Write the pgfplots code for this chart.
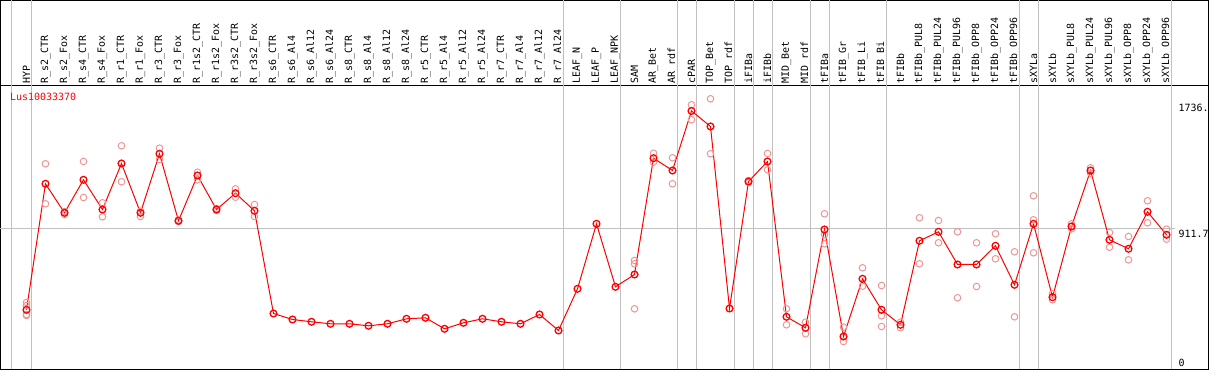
\documentclass[border=0pt]{standalone}
\usepackage{fontspec}
\usepackage{pgfplots}
\usepackage{pgfplotstable}
\pgfplotsset{compat=1.18}
\newfontfamily\mono{DejaVu Sans Mono}
\definecolor{rep}{RGB}{238,150,150}
\definecolor{gridc}{RGB}{192,192,192}

\pgfplotstableread{
x y
0 341.5
1 1225.2
2 1021.8
3 1253.2
4 1044.9
5 1367.5
6 1021.8
7 1435.6
8 965.7
9 1283.4
10 1044.9
11 1159.2
12 1035.8
13 315.6
14 273.5
15 257.4
16 243.3
17 243.3
18 229.3
19 243.3
20 278.4
21 285.4
22 208.3
23 250.4
24 278.4
25 257.4
26 243.3
27 308.6
28 196.4
29 488.8
30 944.7
31 502.8
32 589.1
33 1404.7
34 1318.4
35 1736.0
36 1627.0
37 350.7
38 1241.3
39 1381.6
40 292.4
41 215.3
42 904.7
43 154.3
44 558.9
45 341.5
46 236.3
47 825.4
48 888.5
49 659.2
50 659.2
51 790.4
52 516.9
53 944.7
54 429.9
55 925.7
56 1318.4
57 832.4
58 769.3
59 1028.8
60 867.5
}\means

\pgfplotstableread{
x y
0 392.7
0 371.7
0 308.6
0 301.6
1 1365.4
1 1084.9
2 1030.9
2 1009.9
3 1381.6
3 1129.1
4 1091.9
4 993.7
5 1491.7
5 1239.2
6 1033.0
6 995.8
7 1474.8
7 1395.6
8 971.3
8 960.8
9 1306.5
9 1253.2
10 1051.9
10 1037.9
11 1190.1
11 1131.2
12 1080.0
12 995.8
32 687.3
32 664.1
32 348.5
33 1439.8
33 1376.6
34 1407.5
34 1225.2
35 1779.2
35 1674.0
36 1821.3
36 1435.6
38 1248.3
38 1234.3
39 1437.7
39 1323.4
40 348.5
40 236.3
41 254.6
41 173.2
42 1014.8
42 869.6
42 804.4
43 219.5
43 119.2
44 636.1
44 507.0
45 511.9
45 299.5
45 224.4
46 254.6
46 215.3
47 986.7
47 664.1
48 967.8
48 811.4
49 888.5
49 425.7
50 811.4
50 504.9
51 874.5
51 699.2
52 748.3
52 292.4
53 1141.0
53 972.7
53 741.3
54 453.7
54 411.7
55 944.7
55 909.6
56 1337.4
56 1299.5
57 883.6
57 780.5
58 855.6
58 692.2
59 1106.0
59 951.7
60 906.8
60 836.7
}\reps

\begin{document}
\begin{tikzpicture}
\begin{axis}[
  scale only axis,
  width=1208bp, height=284bp,
  xmin=-1.368, xmax=62.21,
  ymin=-77.1, ymax=1914.5,
  clip=false,
  axis line style={black, line width=1bp},
  ytick=\empty,
  xtick={0,...,60},
  xtick style={draw=none},
  xticklabel pos=right,
  xticklabel style={rotate=90, anchor=west, font=\mono\fontsize{10}{12}\selectfont, inner xsep=2bp, inner ysep=0pt},
  xticklabels={HYP,R\_s2\_CTR,R\_s2\_Fox,R\_s4\_CTR,R\_s4\_Fox,R\_r1\_CTR,R\_r1\_Fox,R\_r3\_CTR,R\_r3\_Fox,R\_r1s2\_CTR,R\_r1s2\_Fox,R\_r3s2\_CTR,R\_r3s2\_Fox,R\_s6\_CTR,R\_s6\_Al4,R\_s6\_Al12,R\_s6\_Al24,R\_s8\_CTR,R\_s8\_Al4,R\_s8\_Al12,R\_s8\_Al24,R\_r5\_CTR,R\_r5\_Al4,R\_r5\_Al12,R\_r5\_Al24,R\_r7\_CTR,R\_r7\_Al4,R\_r7\_Al12,R\_r7\_Al24,LEAF\_N,LEAF\_P,LEAF\_NPK,SAM,AR\_Bet,AR\_rdf,cPAR,TOP\_Bet,TOP\_rdf,iFIBa,iFIBb,MID\_Bet,MID\_rdf,tFIBa,tFIB\_Gr,tFIB\_Li,tFIB\_Bi,tFIBb,tFIBb\_PUL8,tFIBb\_PUL24,tFIBb\_PUL96,tFIBb\_OPP8,tFIBb\_OPP24,tFIBb\_OPP96,sXYLa,sXYLb,sXYLb\_PUL8,sXYLb\_PUL24,sXYLb\_PUL96,sXYLb\_OPP8,sXYLb\_OPP24,sXYLb\_OPP96},
]
% outer border above the plot area
\draw[black, line width=1bp] (axis cs:-1.368,1914.5) -- (axis cs:-1.368,2510.6) -- (axis cs:62.21,2510.6) -- (axis cs:62.21,1914.5);
% group separators
\pgfplotsinvokeforeach{-0.8,0.25,28.25,31.25,34.25,35.25,37.25,38.25,39.25,41.25,42.25,45.25,52.25,53.25,60.25}{
  \draw[gridc, line width=1bp] (axis cs:#1,-77.1) -- (axis cs:#1,2510.6);
}
\draw[gridc, line width=1bp] (axis cs:-1.368,911.7) -- (axis cs:60.47,911.7);
\addplot[only marks, mark=o, mark size=3.3bp, color=rep, mark options={line width=1bp}] table {\reps};
\addplot[red, line width=1bp, mark=o, mark size=3.4bp, mark options={line width=1.3bp}] table {\means};
\node[anchor=north west, inner sep=0pt, red, font=\mono\fontsize{10}{12}\selectfont] at (axis cs:-0.868,1860.5) {Lus10033370};
\node[anchor=base west, inner sep=0pt, font=\mono\fontsize{10}{12}\selectfont] at (axis cs:60.63,1732) {1736.};
\node[anchor=north west, inner sep=0pt, font=\mono\fontsize{10}{12}\selectfont] at (axis cs:60.63,905) {911.7};
\node[anchor=north west, inner sep=0pt, font=\mono\fontsize{10}{12}\selectfont] at (axis cs:60.63,-5) {0};
\end{axis}
\end{tikzpicture}
\end{document}
